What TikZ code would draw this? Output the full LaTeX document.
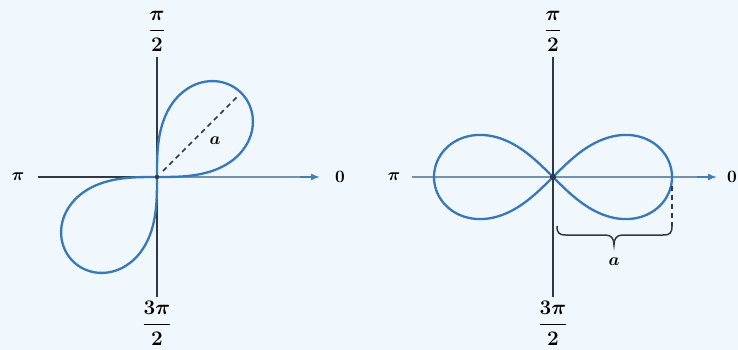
\documentclass[tikz,border=0pt]{standalone}
\usepackage{amsmath}
\definecolor{bgc}{RGB}{240,247,253}
\definecolor{curvec}{RGB}{55,120,185}
\definecolor{axdark}{RGB}{48,56,66}
\definecolor{axlight}{RGB}{120,145,170}
\definecolor{arrowc}{RGB}{70,125,180}
\tikzset{
  lbl/.style={inner sep=0pt, font=\fontsize{18}{21}\selectfont\boldmath},
  frac/.style={inner sep=0pt, font=\fontsize{20}{24}\selectfont\boldmath},
  curve/.style={draw=curvec, line width=2.3pt},
  vaxis/.style={draw=axdark, line width=1.6pt},
  haxis/.style={draw=axlight, line width=1.6pt},
  hdark/.style={draw=axdark, line width=1.6pt},
  tip/.style={-{Latex[length=9pt,width=7pt]}, draw=arrowc, line width=1.6pt},
}
\usetikzlibrary{arrows.meta}
\begin{document}
\begin{tikzpicture}[x=1pt,y=-1pt]
\fill[bgc] (0,0) rectangle (738,350);
\useasboundingbox (0,0) rectangle (738,350);
% ---------- left panel ----------
\coordinate (O1) at (157,177);
\coordinate (L1t) at (157,57);
\coordinate (L1b) at (157,297);
\coordinate (L1l) at (38,177);
\coordinate (L1m) at (300,177);
\coordinate (L1r) at (320,177);
\draw[vaxis] (L1t) -- (L1b);
\draw[hdark] (L1l) -- (O1);
\draw[haxis] (O1) -- (L1m);
\draw[tip] (L1m) -- (L1r);
\draw[curve] plot[domain=0:90, samples=200, smooth]
  ({157+119*sqrt(abs(sin(2*\x)))*cos(\x)},{177-119*sqrt(abs(sin(2*\x)))*sin(\x)});
\draw[curve] plot[domain=180:270, samples=200, smooth]
  ({157+119*sqrt(abs(sin(2*\x)))*cos(\x)},{177-119*sqrt(abs(sin(2*\x)))*sin(\x)});
\coordinate (D1a) at (163,171);
\coordinate (D1b) at (238,96);
\draw[axdark, line width=1.5pt, dash pattern=on 5pt off 4pt] (D1a) -- (D1b);
\node[lbl] (a1) at (215,141) {$a$};
\node[lbl] (pi1) at (18,177) {$\pi$};
\node[lbl] (z1) at (340,177) {$0$};
\node[frac] (h1) at (157,31) {$\dfrac{\pi}{2}$};
\node[frac] (t1) at (157,323) {$\dfrac{3\pi}{2}$};
% ---------- right panel ----------
\coordinate (O2) at (553,177);
\coordinate (L2t) at (553,57);
\coordinate (L2b) at (553,297);
\coordinate (L2l) at (412,177);
\coordinate (L2m) at (697,177);
\coordinate (L2r) at (717,177);
\draw[vaxis] (L2t) -- (L2b);
\draw[haxis] (L2l) -- (L2m);
\draw[tip] (L2m) -- (L2r);
\draw[curve] plot[domain=-45:45, samples=200, smooth]
  ({553+119*sqrt(abs(cos(2*\x)))*cos(\x)},{177-119*sqrt(abs(cos(2*\x)))*sin(\x)});
\draw[curve] plot[domain=135:225, samples=200, smooth]
  ({553+119*sqrt(abs(cos(2*\x)))*cos(\x)},{177-119*sqrt(abs(cos(2*\x)))*sin(\x)});
\fill[axdark] (O2) circle (3pt);
\fill[axdark] (O1) circle (2.2pt);
% brace
\coordinate (B1) at (557,226);
\coordinate (B2) at (672,226);
\coordinate (Bm) at (614,245);
\coordinate (Dt) at (672,186);
\draw[axdark, line width=1.5pt, dash pattern=on 5pt off 4pt] (Dt) -- (B2);
\draw[axdark, line width=1.5pt]
  (B1) .. controls (557,233) and (559,235) .. (566,235) -- (605,235)
  .. controls (611,235) and (614,238) .. (Bm)
  .. controls (614,238) and (617,235) .. (623,235) -- (663,235)
  .. controls (670,235) and (672,233) .. (B2);
\node[lbl] (a2) at (614,262) {$a$};
\node[lbl] (pi2) at (394,177) {$\pi$};
\node[lbl, anchor=east] (z2) at (737,177) {$0$};
\node[frac] (h2) at (553,31) {$\dfrac{\pi}{2}$};
\node[frac] (t2) at (553,323) {$\dfrac{3\pi}{2}$};
\end{tikzpicture}
\end{document}
